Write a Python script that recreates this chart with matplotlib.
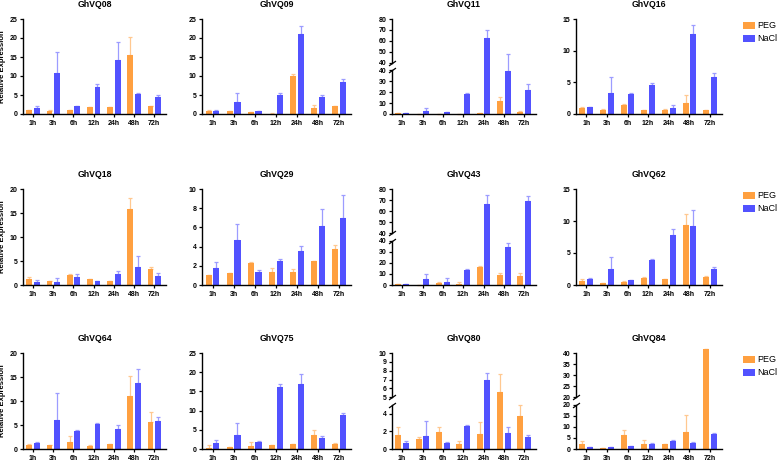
import numpy as np
import matplotlib
matplotlib.use("Agg")
from matplotlib import pyplot as plt

plt.rcParams['font.family'] = ['Liberation Sans', 'DejaVu Sans']

times = ["1h", "3h", "6h", "12h", "24h", "48h", "72h"]

# mean / sd per gene (PEG, NaCl)
GhVQ08_peg = [1.1, 0.9, 0.95, 1.85, 1.85, 15.6, 2.0]
GhVQ08_peg_sd = [0.05, 0.05, 0.05, 0.05, 0.1, 4.6, 0.05]
GhVQ08_nacl = [1.6, 10.75, 2.1, 7.1, 14.2, 5.25, 4.6]
GhVQ08_nacl_sd = [0.5, 5.65, 0.1, 0.8, 4.7, 0.15, 0.4]

GhVQ09_peg = [0.85, 0.7, 0.6, 0.1, 9.9, 1.7, 2.0]
GhVQ09_peg_sd = [0.15, 0.1, 0.05, 0.05, 0.7, 0.8, 0.1]
GhVQ09_nacl = [0.8, 3.1, 0.7, 5.1, 21.1, 4.4, 8.45]
GhVQ09_nacl_sd = [0.15, 2.4, 0.1, 0.4, 2.0, 0.6, 0.65]

GhVQ11_peg = [0.9, 0.3, 0.2, 0.2, 0.6, 12.2, 2.1]
GhVQ11_peg_sd = [0.1, 0.1, 0.1, 0.1, 0.1, 3.3, 0.9]
GhVQ11_nacl = [0.9, 2.7, 1.5, 18.2, 62.7, 39.5, 22.1]
GhVQ11_nacl_sd = [0.1, 3.0, 0.4, 0.9, 7.6, 8.7, 5.1]

GhVQ16_peg = [1.0, 0.67, 1.5, 0.6, 0.67, 1.8, 0.57]
GhVQ16_peg_sd = [0.05, 0.05, 0.05, 0.05, 0.05, 1.25, 0.05]
GhVQ16_nacl = [1.05, 3.3, 3.2, 4.6, 1.0, 12.7, 5.85]
GhVQ16_nacl_sd = [0.1, 2.5, 0.1, 0.25, 0.5, 1.4, 0.55]

GhVQ18_peg = [1.25, 0.75, 2.0, 1.2, 0.85, 15.85, 3.4]
GhVQ18_peg_sd = [0.45, 0.05, 0.2, 0.05, 0.05, 2.2, 0.3]
GhVQ18_nacl = [0.6, 0.7, 1.65, 0.75, 2.3, 3.8, 1.8]
GhVQ18_nacl_sd = [0.4, 0.75, 0.55, 0.05, 0.6, 2.2, 0.6]

GhVQ29_peg = [1.0, 1.2, 2.28, 1.38, 1.38, 2.46, 3.74]
GhVQ29_peg_sd = [0.02, 0.02, 0.07, 0.38, 0.28, 0.03, 0.41]
GhVQ29_nacl = [1.73, 4.64, 1.35, 2.53, 3.53, 6.16, 7.02]
GhVQ29_nacl_sd = [0.69, 1.69, 0.2, 0.17, 0.52, 1.73, 2.36]

GhVQ43_peg = [0.6, 0.3, 2.1, 1.2, 16.5, 9.3, 8.4]
GhVQ43_peg_sd = [0.1, 0.1, 0.3, 1.2, 0.6, 1.8, 2.7]
GhVQ43_nacl = [0.9, 5.4, 3.0, 13.8, 66.7, 34.5, 68.8]
GhVQ43_nacl_sd = [0.3, 4.5, 3.0, 0.6, 7.5, 3.3, 4.5]

GhVQ62_peg = [0.67, 0.36, 0.52, 1.14, 0.93, 9.39, 1.19]
GhVQ62_peg_sd = [0.26, 0.03, 0.03, 0.05, 0.05, 1.71, 0.21]
GhVQ62_nacl = [0.99, 2.49, 0.73, 3.84, 7.78, 9.19, 2.54]
GhVQ62_nacl_sd = [0.03, 1.87, 0.1, 0.21, 1.04, 2.51, 0.26]

GhVQ64_peg = [0.9, 0.76, 1.45, 0.7, 0.97, 11.1, 5.6]
GhVQ64_peg_sd = [0.05, 0.05, 1.25, 0.05, 0.05, 4.2, 2.2]
GhVQ64_nacl = [1.18, 5.95, 3.8, 5.2, 4.15, 13.7, 5.75]
GhVQ64_nacl_sd = [0.27, 5.75, 0.2, 0.2, 0.85, 3.0, 0.85]

GhVQ75_peg = [0.35, 0.43, 0.86, 1.04, 1.2, 3.55, 1.3]
GhVQ75_peg_sd = [0.65, 0.05, 0.87, 0.05, 0.05, 1.29, 0.17]
GhVQ75_nacl = [1.55, 3.55, 1.9, 16.26, 16.87, 2.85, 8.82]
GhVQ75_nacl_sd = [0.7, 3.11, 0.18, 0.74, 2.73, 0.61, 0.44]

GhVQ80_peg = [1.64, 1.16, 1.9, 0.6, 1.72, 5.63, 3.7]
GhVQ80_peg_sd = [0.83, 0.22, 0.57, 0.33, 1.38, 2.0, 1.23]
GhVQ80_nacl = [0.64, 1.42, 0.64, 2.58, 7.0, 1.83, 1.35]
GhVQ80_nacl_sd = [0.29, 1.76, 0.18, 0.11, 0.7, 0.71, 0.18]

GhVQ84_peg = [2.4, 0.3, 6.2, 2.4, 2.3, 7.6, 41.6]
GhVQ84_peg_sd = [1.4, 0.2, 2.3, 1.8, 0.1, 7.6, 0.0]
GhVQ84_nacl = [0.76, 0.76, 1.2, 2.3, 3.5, 2.7, 6.7]
GhVQ84_nacl_sd = [0.1, 0.3, 0.2, 0.3, 0.7, 0.3, 0.7]

# y axis setup: (ymax, lower ticks, break value, upper ticks)
axis_cfg = {
    "GhVQ08": (25, [0, 5, 10, 15, 20, 25], None, None),
    "GhVQ09": (25, [0, 5, 10, 15, 20, 25], None, None),
    "GhVQ11": (80, [0, 10, 20, 30, 40], 40, [40, 50, 60, 70, 80]),
    "GhVQ16": (15, [0, 5, 10, 15], None, None),
    "GhVQ18": (20, [0, 5, 10, 15, 20], None, None),
    "GhVQ29": (10, [0, 2, 4, 6, 8, 10], None, None),
    "GhVQ43": (80, [0, 10, 20, 30, 40], 40, [40, 50, 60, 70, 80]),
    "GhVQ62": (15, [0, 5, 10, 15], None, None),
    "GhVQ64": (20, [0, 5, 10, 15, 20], None, None),
    "GhVQ75": (25, [0, 5, 10, 15, 20, 25], None, None),
    "GhVQ80": (10, [0, 2, 4], 5, [5, 6, 7, 8, 9, 10]),
    "GhVQ84": (40, [0, 5, 10, 15, 20], 20, [20, 25, 30, 35, 40]),
}

panels = [
    ("GhVQ08", GhVQ08_peg, GhVQ08_peg_sd, GhVQ08_nacl, GhVQ08_nacl_sd),
    ("GhVQ09", GhVQ09_peg, GhVQ09_peg_sd, GhVQ09_nacl, GhVQ09_nacl_sd),
    ("GhVQ11", GhVQ11_peg, GhVQ11_peg_sd, GhVQ11_nacl, GhVQ11_nacl_sd),
    ("GhVQ16", GhVQ16_peg, GhVQ16_peg_sd, GhVQ16_nacl, GhVQ16_nacl_sd),
    ("GhVQ18", GhVQ18_peg, GhVQ18_peg_sd, GhVQ18_nacl, GhVQ18_nacl_sd),
    ("GhVQ29", GhVQ29_peg, GhVQ29_peg_sd, GhVQ29_nacl, GhVQ29_nacl_sd),
    ("GhVQ43", GhVQ43_peg, GhVQ43_peg_sd, GhVQ43_nacl, GhVQ43_nacl_sd),
    ("GhVQ62", GhVQ62_peg, GhVQ62_peg_sd, GhVQ62_nacl, GhVQ62_nacl_sd),
    ("GhVQ64", GhVQ64_peg, GhVQ64_peg_sd, GhVQ64_nacl, GhVQ64_nacl_sd),
    ("GhVQ75", GhVQ75_peg, GhVQ75_peg_sd, GhVQ75_nacl, GhVQ75_nacl_sd),
    ("GhVQ80", GhVQ80_peg, GhVQ80_peg_sd, GhVQ80_nacl, GhVQ80_nacl_sd),
    ("GhVQ84", GhVQ84_peg, GhVQ84_peg_sd, GhVQ84_nacl, GhVQ84_nacl_sd),
]

ORANGE = "#FFA040"
BLUE = "#5252FF"
ORANGE_ERR = "#FFC890"
BLUE_ERR = "#9C9CFF"

W, H = 778, 463
lefts = [23, 202, 392, 576]
rights = [166, 351, 536, 722]
tops = [19, 189, 353]
bottoms = [114, 285, 449]


def make_break_scale(b, g):
    def fwd(y):
        y = np.asarray(y, dtype=float)
        return np.where(y > b, y + g, y)

    def inv(z):
        z = np.asarray(z, dtype=float)
        return np.where(z > b + g, z - g, np.minimum(z, b))
    return fwd, inv


def draw_panel(ax, name, peg, peg_sd, nacl, nacl_sd):
    ymax, lower, brk, upper = axis_cfg[name]
    x = np.arange(len(times))
    w = 0.29
    off = 0.186

    if brk is not None:
        ax.set_yscale("function", functions=make_break_scale(brk, 0.086 * ymax))

    b1 = ax.bar(x - off, peg, w, color=ORANGE, zorder=2, clip_on=False)
    b2 = ax.bar(x + off, nacl, w, color=BLUE, zorder=2, clip_on=False)
    ax.errorbar(x - off, peg, yerr=[np.zeros(len(peg)), peg_sd], fmt="none",
                ecolor=ORANGE_ERR, elinewidth=0.9, capsize=1.5, capthick=0.9,
                zorder=1, clip_on=False)
    ax.errorbar(x + off, nacl, yerr=[np.zeros(len(nacl)), nacl_sd], fmt="none",
                ecolor=BLUE_ERR, elinewidth=0.9, capsize=1.5, capthick=0.9,
                zorder=1, clip_on=False)

    ax.set_xlim(-0.5, 6.58)
    ax.set_ylim(0, ymax)
    ax.set_xticks(x, times)

    if brk is None:
        ax.set_yticks(lower, [str(t) for t in lower])
    else:
        pos = list(lower) + [brk + 1e-6] + list(upper[1:])
        labs = [str(t) for t in lower] + [str(t) for t in upper]
        ax.set_yticks(pos, labs)
        ax.spines["left"].set_visible(False)
        tr = ax.get_yaxis_transform()
        ax.plot([0, 0], [0, brk], transform=tr, color="black", lw=1.0, clip_on=False)
        ax.plot([0, 0], [brk + 1e-6, ymax], transform=tr, color="black", lw=1.0, clip_on=False)
        ax.plot([0, 0], [brk, brk + 1e-6], transform=tr, linestyle="none",
                marker=[(-1, -0.7), (1, 0.7)], markersize=5, mew=0.9,
                color="black", clip_on=False)
    ax.minorticks_off()

    for s in ["top", "right"]:
        ax.spines[s].set_visible(False)
    for s in ["left", "bottom"]:
        ax.spines[s].set_linewidth(1.0)
    ax.tick_params(direction="out", length=2.5, width=0.9, labelsize=5, pad=1.5)
    ax.tick_params(axis="x", length=2.2, pad=1.8)
    for lab in ax.get_xticklabels() + ax.get_yticklabels():
        lab.set_fontweight("bold")
    ax.set_title(name, fontsize=6.3, fontweight="bold", pad=8.5)
    return b1, b2


fig = plt.figure(figsize=(W / 100, H / 100), dpi=100)

for i, (name, peg, peg_sd, nacl, nacl_sd) in enumerate(panels):
    r, c = divmod(i, 4)
    ax = fig.add_axes([lefts[c] / W, 1 - bottoms[r] / H,
                       (rights[c] - lefts[c]) / W, (bottoms[r] - tops[r]) / H])
    b1, b2 = draw_panel(ax, name, peg, peg_sd, nacl, nacl_sd)
    if c == 0:
        ax.set_ylabel("Relative Expression", fontsize=5.5, fontweight="bold", labelpad=2.5)
    if c == 3:
        ax.legend([b1, b2], ["PEG", "NaCl"], loc="upper left",
                  bbox_to_anchor=(1.144, 0.975), frameon=False, borderpad=0,
                  borderaxespad=0, handlelength=1.3, handleheight=0.75,
                  handletextpad=0.3, labelspacing=0.45, fontsize=6.5)

fig.savefig("out.png", dpi=100)
